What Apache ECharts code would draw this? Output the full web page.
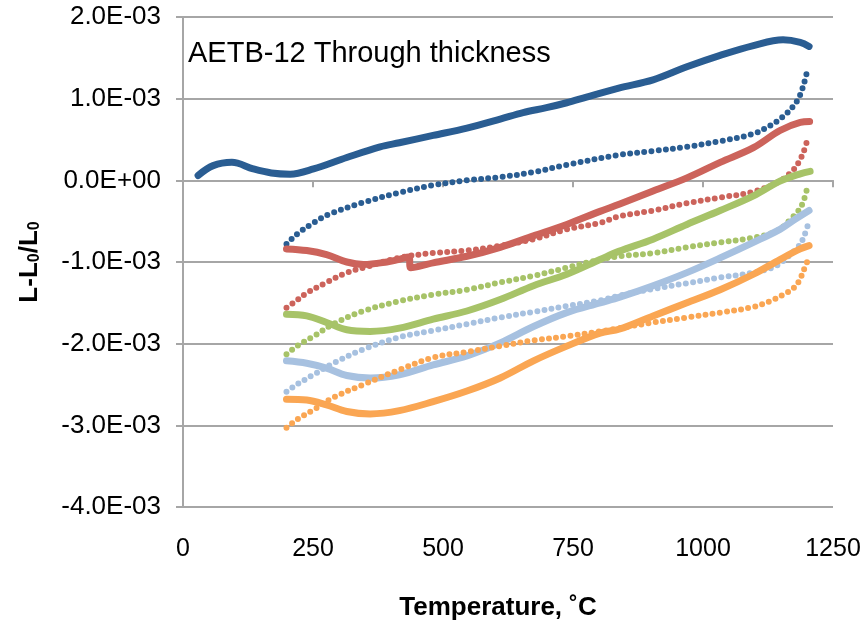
<!DOCTYPE html>
<html>
<head>
    <title>AETB-12 Through thickness</title>
    <script src="https://cdn.jsdelivr.net/npm/echarts@6.0.0/dist/echarts.min.js"></script>
    <style>
        html, body { margin: 0; padding: 0; background: #fff; }
        #grafico { width: 867px; height: 627px; }
    </style>
</head>
<body>
    <div id="grafico"></div>

    <script>
        // Temperature (°C) vs L-L0/L0, y values in units of 1E-03
        const ejeX = [0, 250, 500, 750, 1000, 1250];
        const ejeY = [-4, -3, -2, -1, 0, 1, 2];

        const azulCalor = [[29,0.06],[58,0.18],[94,0.22],[135,0.14],[170,0.09],[206,0.076],[251,0.14],[315,0.28],[379,0.41],[416,0.46],[481,0.55],[546,0.64],[610,0.75],[654,0.83],[699,0.89],[738,0.95],[776,1.02],[838,1.13],[904,1.23],[969,1.39],[1033,1.53],[1097,1.65],[1154,1.72],[1187,1.69],[1204,1.64]];
        const azulFrio = [[199,-0.78],[219,-0.66],[251,-0.52],[283,-0.41],[347,-0.27],[416,-0.15],[481,-0.06],[546,0.0],[610,0.04],[674,0.10],[738,0.19],[838,0.31],[904,0.36],[969,0.41],[1033,0.48],[1097,0.57],[1129,0.67],[1154,0.78],[1174,0.91],[1185,1.02],[1194,1.18],[1200,1.33]];

        const rojoCalor = [[199,-0.84],[238,-0.86],[276,-0.91],[315,-1.00],[347,-1.03],[392,-1.00],[414,-0.97],[434,-0.94],[438,-1.07],[481,-1.01],[546,-0.93],[610,-0.82],[674,-0.68],[738,-0.54],[802,-0.38],[840,-0.29],[904,-0.13],[969,0.03],[1033,0.22],[1097,0.40],[1148,0.61],[1187,0.71],[1205,0.72]];
        const rojoFrio = [[199,-1.56],[219,-1.47],[238,-1.38],[276,-1.25],[315,-1.13],[347,-1.07],[414,-0.95],[481,-0.89],[546,-0.86],[610,-0.80],[674,-0.72],[738,-0.60],[802,-0.52],[840,-0.44],[904,-0.37],[969,-0.28],[1033,-0.21],[1097,-0.14],[1148,-0.01],[1174,0.13],[1183,0.21],[1193,0.34],[1200,0.48]];

        const verdeCalor = [[199,-1.64],[238,-1.66],[276,-1.74],[315,-1.83],[360,-1.85],[416,-1.81],[481,-1.70],[546,-1.60],[610,-1.46],[674,-1.29],[738,-1.15],[802,-0.97],[838,-0.87],[904,-0.72],[969,-0.54],[1033,-0.37],[1097,-0.19],[1148,-0.01],[1187,0.08],[1206,0.11]];
        const verdeFrio = [[199,-2.13],[219,-2.03],[251,-1.91],[289,-1.76],[347,-1.60],[416,-1.48],[481,-1.40],[546,-1.34],[610,-1.25],[674,-1.17],[738,-1.07],[802,-0.97],[840,-0.93],[904,-0.89],[969,-0.82],[1033,-0.76],[1090,-0.71],[1142,-0.62],[1174,-0.44],[1186,-0.35],[1194,-0.24],[1201,-0.08]];

        const celesteCalor = [[199,-2.21],[238,-2.24],[276,-2.30],[315,-2.39],[360,-2.42],[416,-2.38],[481,-2.26],[546,-2.15],[610,-1.99],[674,-1.79],[738,-1.62],[802,-1.50],[840,-1.43],[904,-1.29],[969,-1.13],[1033,-0.95],[1097,-0.76],[1148,-0.60],[1174,-0.49],[1204,-0.37]];
        const celesteFrio = [[199,-2.59],[219,-2.50],[251,-2.38],[289,-2.24],[347,-2.07],[416,-1.92],[481,-1.84],[546,-1.76],[610,-1.68],[674,-1.61],[738,-1.54],[802,-1.47],[840,-1.41],[904,-1.33],[969,-1.26],[1033,-1.19],[1097,-1.13],[1140,-1.05],[1171,-0.89],[1185,-0.80],[1194,-0.69],[1202,-0.54]];

        const naranjaCalor = [[199,-2.68],[238,-2.69],[276,-2.75],[315,-2.83],[360,-2.86],[416,-2.82],[481,-2.71],[546,-2.58],[610,-2.42],[674,-2.21],[738,-2.03],[802,-1.87],[840,-1.82],[904,-1.66],[969,-1.50],[1033,-1.34],[1097,-1.15],[1148,-0.97],[1187,-0.84],[1204,-0.80]];
        const naranjaFrio = [[199,-3.03],[219,-2.93],[251,-2.81],[289,-2.66],[347,-2.50],[416,-2.32],[481,-2.17],[546,-2.10],[610,-2.03],[674,-1.96],[738,-1.91],[802,-1.85],[840,-1.81],[904,-1.74],[969,-1.68],[1033,-1.62],[1097,-1.55],[1129,-1.48],[1154,-1.40],[1174,-1.32],[1185,-1.23],[1193,-1.11],[1202,-0.97]];

        const colores = ['#2A5D92', '#CC635B', '#A7C368', '#A7C1E0', '#FAA653'];
        const gris = '#A6A6A6';
        const fuente = 'Liberation Sans, Arial, sans-serif';

        function etiquetaY(v) {
            const s = (v * 1e-3).toExponential(1).toUpperCase();
            return s.replace(/E([+-])(\d)$/, 'E$10$2');
        }

        function calor(datos, color) {
            return {
                type: 'line', data: datos, showSymbol: false, smooth: 0.35,
                lineStyle: { color: color, width: 7, cap: 'round', join: 'round' },
                silent: true
            };
        }
        function frio(datos, color) {
            return {
                type: 'line', data: datos, showSymbol: false, smooth: 0.35,
                lineStyle: { color: color, width: 6, type: [0, 7.2], cap: 'round' },
                silent: true
            };
        }

        const grafico = echarts.init(document.getElementById('grafico'));
        grafico.setOption({
            animation: false,
            grid: { left: 183, right: 34, top: 17, bottom: 120 },
            graphic: [{
                type: 'text', left: 188, top: 39,
                style: { text: 'AETB-12 Through thickness', font: '29px ' + fuente, fill: '#000' }
            }],
            xAxis: {
                type: 'value', min: ejeX[0], max: ejeX[ejeX.length - 1], interval: 250,
                name: 'Temperature, ˚C', nameLocation: 'middle', nameGap: 88,
                nameTextStyle: { fontFamily: fuente, fontSize: 26, fontWeight: 'bold', color: '#000', padding: [0, 20, 0, 0] },
                axisLine: { lineStyle: { color: gris, width: 2 } },
                axisTick: { show: true, length: 7, lineStyle: { color: gris, width: 2 } },
                axisLabel: { fontFamily: fuente, fontSize: 25, color: '#000', margin: 30, formatter: v => String(v) },
                splitLine: { show: false }
            },
            yAxis: {
                type: 'value', min: ejeY[0], max: ejeY[ejeY.length - 1], interval: 1,
                name: '{n|L-L}{s|0}{n|/L}{s|0}', nameLocation: 'middle', nameGap: 140, nameRotate: 90,
                nameTextStyle: {
                    rich: {
                        n: { fontFamily: fuente, fontSize: 26, fontWeight: 'bold', color: '#000', verticalAlign: 'top', lineHeight: 26 },
                        s: { fontFamily: fuente, fontSize: 16, fontWeight: 'bold', color: '#000', verticalAlign: 'bottom', lineHeight: 16, padding: [14, 0, 0, 0] }
                    }
                },
                axisLine: { show: true, lineStyle: { color: gris, width: 2 } },
                axisTick: { show: true, length: 7, lineStyle: { color: gris, width: 2 } },
                axisLabel: { fontFamily: fuente, fontSize: 26, color: '#000', margin: 22, formatter: etiquetaY },
                splitLine: { show: true, lineStyle: { color: gris, width: 2 } }
            },
            series: [
                calor(azulCalor, colores[0]), frio(azulFrio, colores[0]),
                calor(rojoCalor, colores[1]), frio(rojoFrio, colores[1]),
                calor(verdeCalor, colores[2]), frio(verdeFrio, colores[2]),
                calor(celesteCalor, colores[3]), frio(celesteFrio, colores[3]),
                calor(naranjaCalor, colores[4]), frio(naranjaFrio, colores[4])
            ]
        });
    </script>
</body>
</html>
